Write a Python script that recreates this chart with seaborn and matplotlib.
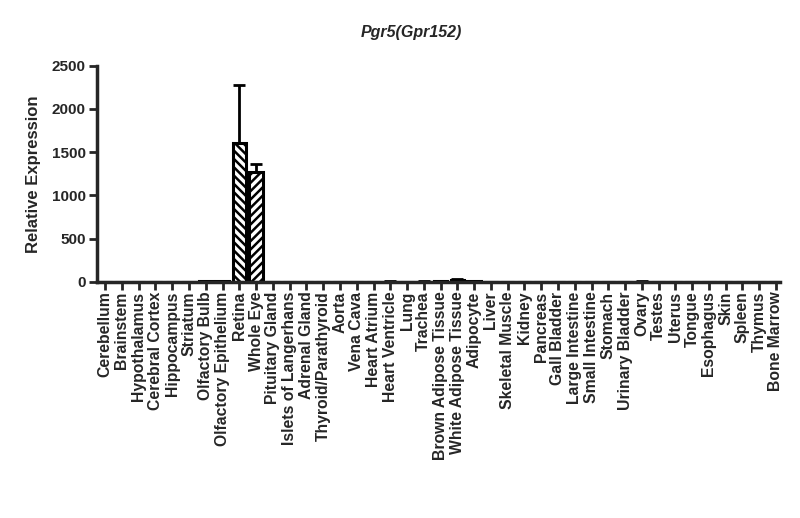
import matplotlib
matplotlib.use("Agg")
import matplotlib.pyplot as plt
import seaborn as sns
import pandas as pd
import numpy as np

tissues = ["Cerebellum", "Brainstem", "Hypothalamus", "Cerebral Cortex", "Hippocampus",
           "Striatum", "Olfactory Bulb", "Olfactory Epithelium", "Retina", "Whole Eye",
           "Pituitary Gland", "Islets of Langerhans", "Adrenal Gland", "Thyroid/Parathyroid",
           "Aorta", "Vena Cava", "Heart Atrium", "Heart Ventricle", "Lung", "Trachea",
           "Brown Adipose Tissue", "White Adipose Tissue", "Adipocyte", "Liver",
           "Skeletal Muscle", "Kidney", "Pancreas", "Gall Bladder", "Large Intestine",
           "Small Intestine", "Stomach", "Urinary Bladder", "Ovary", "Testes", "Uterus",
           "Tongue", "Esophagus", "Skin", "Spleen", "Thymus", "Bone Marrow"]
expression = [2, 1, 1, 1, 1, 2, 5, 8, 1605, 1270,
              1, 1, 1, 2, 2, 2, 1, 3, 2, 3,
              5, 15, 5, 1, 1, 1, 1, 1, 1,
              1, 1, 1, 3, 1, 1, 1, 1, 1, 1, 1, 2]
errors = [1, 1, 1, 1, 1, 1, 3, 4, 670, 95,
          1, 1, 1, 1, 1, 1, 1, 2, 1, 2,
          3, 12, 4, 1, 1, 1, 1, 1, 1,
          1, 1, 1, 2, 1, 1, 1, 1, 1, 1, 1, 1]
title = "Pgr5(Gpr152)"
ylabel = "Relative Expression"
yticks = [0, 500, 1000, 1500, 2000, 2500]

sns.set_style("ticks")
plt.rcParams['font.family'] = ['Liberation Sans', 'DejaVu Sans']
plt.rcParams['font.weight'] = 'bold'
plt.rcParams['hatch.linewidth'] = 1.8

df = pd.DataFrame({"tissue": tissues, "expr": expression, "err": errors})

fig = plt.figure(figsize=(8.0, 5.18), dpi=100)
ax = fig.add_axes([0.121, 0.456, 0.854, 0.417])

sns.barplot(data=df, x="tissue", y="expr", order=tissues, color="white",
            edgecolor="black", linewidth=2.2, width=0.8, errorbar=None, ax=ax)

hatches = {"Retina": "\\\\\\\\", "Whole Eye": "////"}
for patch, name in zip(ax.patches, tissues):
    if name in hatches:
        patch.set_hatch(hatches[name])

xpos = np.arange(len(tissues))
ax.errorbar(xpos, df["expr"], yerr=[np.zeros(len(tissues)), df["err"]],
            fmt="none", ecolor="black", elinewidth=2, capsize=4, capthick=2)

ax.set_ylim(0, 2500)
ax.set_yticks(yticks)
ax.set_xlim(-0.5, 40.24)
ax.set_xlabel("")
ax.set_ylabel(ylabel, fontsize=12, fontweight="bold", labelpad=8)
fig.text(411 / 800, 1 - 33 / 518, title, fontsize=11.5, fontweight="bold",
         style="italic", ha="center", va="center")
ax.tick_params(axis="x", labelrotation=90, labelsize=11.3, width=2, length=6,
               direction="out", pad=1)
ax.tick_params(axis="y", labelsize=11, width=2, length=6, direction="out", pad=2)
for lab in ax.get_xticklabels() + ax.get_yticklabels():
    lab.set_fontweight("bold")
for s in ["left", "bottom"]:
    ax.spines[s].set_linewidth(2.5)
sns.despine(ax=ax)

fig.savefig("out.png", dpi=100)
